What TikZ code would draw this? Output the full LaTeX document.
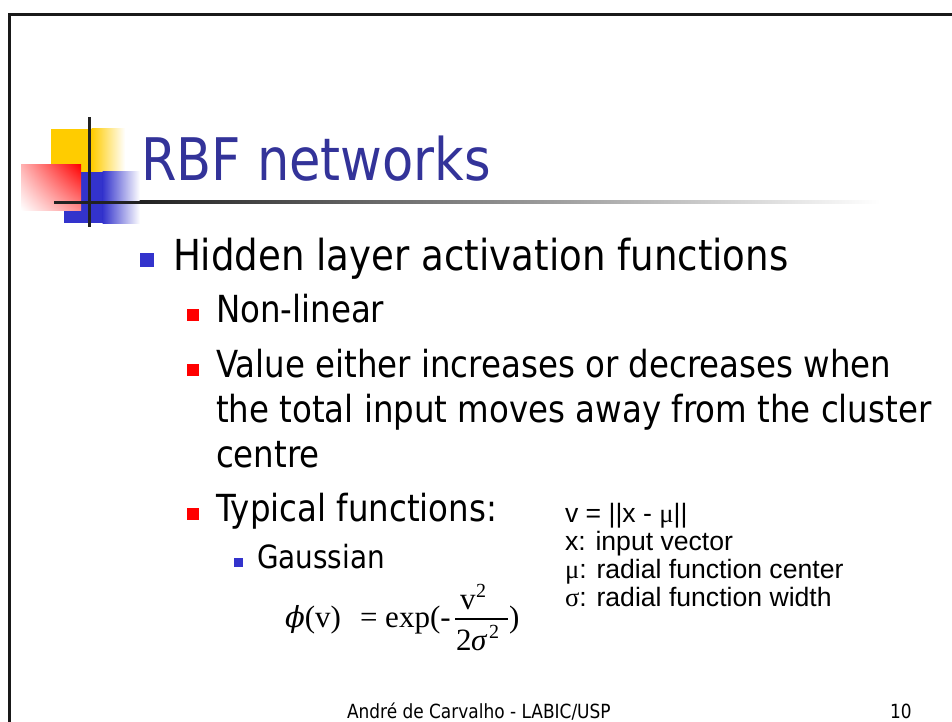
\documentclass[tikz,border=0pt]{standalone}
\usepackage{fontspec}
\usetikzlibrary{shadings}
\newfontfamily\tah[FakeStretch=0.87]{DejaVu Sans}
\newfontfamily\ari{Liberation Sans}
\newfontfamily\tms{Liberation Serif}
\newfontfamily\dvserif{DejaVu Serif}
\definecolor{titleblue}{RGB}{51,51,153}
\definecolor{bulblue}{RGB}{51,51,204}
\definecolor{bulred}{RGB}{255,0,0}
\definecolor{deco yellow}{RGB}{255,204,0}
\definecolor{deco blue}{RGB}{51,51,204}
\definecolor{rulegray}{RGB}{34,34,34}
\definecolor{rulemid}{RGB}{180,180,180}
\newcommand{\fsz}[1]{\fontsize{#1}{#1}\selectfont}
\tikzset{
  txt/.style={anchor=base west, inner sep=0pt, outer sep=0pt},
  lvla/.style={txt, font=\tah\fsz{42.7}},
  lvlb/.style={txt, font=\tah\fsz{37.3}},
  lvlc/.style={txt, font=\tah\fsz{32}},
  note/.style={txt, font=\ari\fsz{26.6}},
  eq/.style={txt, font=\tms\fsz{31}},
  eqsup/.style={txt, font=\tms\fsz{20}},
  bullet/.style={fill=#1, draw=none}
}
\begin{document}
\begin{tikzpicture}[x=1pt, y=-1pt]
\useasboundingbox (0,0) rectangle (952,722);
\fill[white] (0,0) rectangle (952,722);

% slide frame (top and left edges)
\fill[black!90] (7.5,13.5) rectangle (952,16.5);
\fill[black!90] (7.5,13.5) rectangle (10.5,722);

% corner ornament
\fill[deco yellow] (51,129) rectangle (92,172);
\shade[left color=deco yellow, right color=white] (91.5,129) rectangle (125,172);
\fill[deco blue] (64,172) rectangle (103,223);
\shade[left color=deco blue, right color=white] (102.5,172) rectangle (140,223);
\shade[upper right=red, upper left=red!30, lower left=white, lower right=red!45]
  (21,165) rectangle (81,210);
% title rule fading to the right
\fill[rulegray] (54,200.5) rectangle (140,203.5);
\shade[left color=rulegray, middle color=rulemid, right color=white] (139.5,200.5) rectangle (880,203.5);
\fill[rulegray] (87.5,117) rectangle (90.5,227);

% title
\node[txt, font=\tah\fsz{58.7}, text=titleblue] (title) at (141,181) {RBF networks};

% level 1
\fill[bullet=bulblue] (140,253) rectangle (154,267);
\node[lvla] (hidden) at (173,270) {Hidden layer activation functions};

% level 2
\fill[bullet=bulred] (187,309) rectangle (199,321);
\node[lvlb] (nonlin) at (216,322) {Non-linear};
\fill[bullet=bulred] (187,364) rectangle (199,376);
\node[lvlb] (value1) at (216,377) {Value either increases or decreases when};
\node[lvlb] (value2) at (216,422) {the total input moves away from the cluster};
\node[lvlb] (value3) at (216,467) {centre};
\fill[bullet=bulred] (187,508) rectangle (199,520);
\node[lvlb] (typical) at (216,521) {Typical functions:};

% level 3
\fill[bullet=bulblue] (234,558) rectangle (243,567);
\node[lvlc] (gauss) at (257,568) {Gaussian};

% Gaussian formula
\node[txt, font=\dvserif\itshape\fsz{29}] (phi) at (285,627) {ϕ};
\node[eq] (arg) at (phi.base east) {(v)};
\node[eq] (exp) at (360,627) {= exp(-};
\node[eq] (num) at (460,609) {v};
\node[eqsup] (numsup) at (476,597) {2};
\coordinate (barl) at (455,619);
\coordinate (barr) at (508,619);
\draw[line width=1.3pt] (barl) -- (barr);
\node[eq] (den) at (456,650) {2};
\node[eq, font=\tms\itshape\fsz{31}] (densig) at (471,650) {σ};
\node[eqsup] (densup) at (489,638) {2};
\node[eq] (close) at (509,627) {)};

% symbol notes
\node[note] (n1) at (565,522) {v = ||x - {\tms μ}||};
\node[note] (n2) at (565,550) {x: input vector};
\node[note] (n3) at (565,578) {{\tms μ}: radial function center};
\node[note] (n4) at (565,606) {{\tms σ}: radial function width};

% footer
\node[txt, font=\tah\fsz{19.5}] (author) at (347,718) {André de Carvalho - LABIC/USP};
\node[txt, font=\tah\fsz{19.5}] (page) at (890,718) {10};
\end{tikzpicture}
\end{document}
